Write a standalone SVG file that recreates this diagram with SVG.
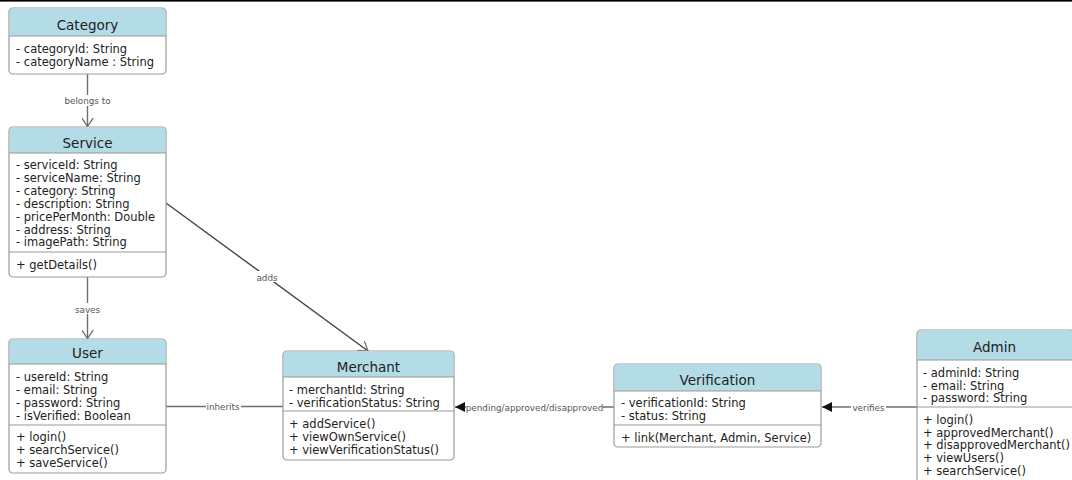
<svg xmlns="http://www.w3.org/2000/svg" width="1072" height="480" viewBox="0 0 1072 480">
<style>
.box{fill:#fff;stroke:#9a9a9a;stroke-width:1.2}
.hdr{fill:#b3dce6}
.sep{stroke:#9a9a9a;stroke-width:1.2}
.title{font-family:"DejaVu Sans",Verdana,sans-serif;font-size:13.5px;fill:#222;text-anchor:middle}
.t{font-family:"DejaVu Sans",Verdana,sans-serif;font-size:11.5px;fill:#222}
.edge{fill:none;stroke:#6e6e6e;stroke-width:1.4}
.lbl{font-family:"DejaVu Sans",Verdana,sans-serif;font-size:8.8px;fill:#555;text-anchor:middle}
.lbg{fill:#fff}
</style>
<defs>
<marker id="open" viewBox="0 0 10 12" refX="9" refY="6" markerWidth="10" markerHeight="12" markerUnits="userSpaceOnUse" orient="auto">
<path d="M0,0 L9,6 L0,12" fill="none" stroke="#6e6e6e" stroke-width="1.3"/>
</marker>
<marker id="fill" viewBox="0 0 11 10" refX="10" refY="5" markerWidth="11" markerHeight="10" markerUnits="userSpaceOnUse" orient="auto">
<path d="M0,0 L10,5 L0,10 Z" fill="#111"/>
</marker>
</defs>
<rect x="0" y="0" width="1072" height="1.6" fill="#000"/>

<g id="connectors">
<line class="edge" x1="87.5" y1="74" x2="87.5" y2="126.5" marker-end="url(#open)"/>
<rect class="lbg" x="63" y="95" width="49" height="11"/>
<text class="lbl" x="87.5" y="103.5">belongs to</text>

<line class="edge" x1="166" y1="203" x2="368" y2="351" marker-end="url(#open)" style="stroke:#444"/>
<rect class="lbg" x="255" y="271" width="24" height="11"/>
<text class="lbl" x="267" y="280.5">adds</text>

<line class="edge" x1="87.5" y1="277" x2="87.5" y2="338.5" marker-end="url(#open)"/>
<rect class="lbg" x="72" y="303" width="31" height="11"/>
<text class="lbl" x="87.5" y="312.5">saves</text>

<line class="edge" x1="166" y1="406.5" x2="283" y2="406.5"/>
<rect class="lbg" x="206" y="401" width="35" height="11"/>
<text class="lbl" x="223" y="410">inherits</text>

<line class="edge" x1="614" y1="407" x2="455" y2="407" marker-end="url(#fill)"/>
<rect class="lbg" x="466" y="401" width="137" height="11"/>
<text class="lbl" x="534.5" y="410.5">pending/approved/disapproved</text>

<line class="edge" x1="917" y1="407" x2="822" y2="407" marker-end="url(#fill)"/>
<rect class="lbg" x="851" y="401" width="35" height="11"/>
<text class="lbl" x="868.5" y="410.5">verifies</text>
</g>

<g id="category">
<rect class="box" x="9" y="8" width="157" height="66" rx="4"/>
<path class="hdr" d="M13,8.6 H162 A3.4,3.4 0 0 1 165.4,12 V36 H9.6 V12 A3.4,3.4 0 0 1 13,8.6 Z"/>
<line class="sep" x1="9" y1="36" x2="166" y2="36"/>
<text class="title" x="87.5" y="30">Category</text>
<text class="t" x="16" y="53">- categoryId: String</text>
<text class="t" x="16" y="66">- categoryName : String</text>
</g>

<g id="service">
<rect class="box" x="9" y="127" width="157" height="150" rx="4"/>
<path class="hdr" d="M13,127.6 H162 A3.4,3.4 0 0 1 165.4,131 V153 H9.6 V131 A3.4,3.4 0 0 1 13,127.6 Z"/>
<line class="sep" x1="9" y1="153" x2="166" y2="153"/>
<text class="title" x="87.5" y="148">Service</text>
<text class="t" x="16" y="169">- serviceId: String</text>
<text class="t" x="16" y="182">- serviceName: String</text>
<text class="t" x="16" y="195">- category: String</text>
<text class="t" x="16" y="208">- description: String</text>
<text class="t" x="16" y="220.5">- pricePerMonth: Double</text>
<text class="t" x="16" y="233.5">- address: String</text>
<text class="t" x="16" y="246">- imagePath: String</text>
<line class="sep" x1="9" y1="252" x2="166" y2="252"/>
<text class="t" x="16" y="269">+ getDetails()</text>
</g>

<g id="user">
<rect class="box" x="9" y="339" width="157" height="134" rx="4"/>
<path class="hdr" d="M13,339.6 H162 A3.4,3.4 0 0 1 165.4,343 V364 H9.6 V343 A3.4,3.4 0 0 1 13,339.6 Z"/>
<line class="sep" x1="9" y1="364" x2="166" y2="364"/>
<text class="title" x="87.5" y="358">User</text>
<text class="t" x="16" y="381">- usereId: String</text>
<text class="t" x="16" y="394">- email: String</text>
<text class="t" x="16" y="407">- password: String</text>
<text class="t" x="16" y="420">- isVerified: Boolean</text>
<line class="sep" x1="9" y1="425" x2="166" y2="425"/>
<text class="t" x="16" y="441">+ login()</text>
<text class="t" x="16" y="454">+ searchService()</text>
<text class="t" x="16" y="467">+ saveService()</text>
</g>

<g id="merchant">
<rect class="box" x="283" y="351" width="171" height="109" rx="4"/>
<path class="hdr" d="M287,351.6 H450 A3.4,3.4 0 0 1 453.4,355 V377 H283.6 V355 A3.4,3.4 0 0 1 287,351.6 Z"/>
<line class="sep" x1="283" y1="377" x2="454" y2="377"/>
<text class="title" x="368.5" y="372">Merchant</text>
<text class="t" x="289" y="394">- merchantId: String</text>
<text class="t" x="289" y="407">- verificationStatus: String</text>
<line class="sep" x1="283" y1="411" x2="454" y2="411"/>
<text class="t" x="289" y="427.5">+ addService()</text>
<text class="t" x="289" y="441">+ viewOwnService()</text>
<text class="t" x="289" y="454">+ viewVerificationStatus()</text>
</g>

<g id="verification">
<rect class="box" x="614" y="364" width="207" height="83" rx="4"/>
<path class="hdr" d="M618,364.6 H817 A3.4,3.4 0 0 1 820.4,368 V391 H614.6 V368 A3.4,3.4 0 0 1 618,364.6 Z"/>
<line class="sep" x1="614" y1="391" x2="821" y2="391"/>
<text class="title" x="717.5" y="385">Verification</text>
<text class="t" x="621" y="407">- verificationId: String</text>
<text class="t" x="621" y="419.5">- status: String</text>
<line class="sep" x1="614" y1="425" x2="821" y2="425"/>
<text class="t" x="621" y="442">+ link(Merchant, Admin, Service)</text>
</g>

<g id="admin">
<rect class="box" x="917" y="330" width="157" height="152" rx="4"/>
<path class="hdr" d="M921,330.6 H1070 A3.4,3.4 0 0 1 1073.4,334 V360 H917.6 V334 A3.4,3.4 0 0 1 921,330.6 Z"/>
<line class="sep" x1="917" y1="360" x2="1074" y2="360"/>
<text class="title" x="994.5" y="352">Admin</text>
<text class="t" x="923" y="377">- adminId: String</text>
<text class="t" x="923" y="389.5">- email: String</text>
<text class="t" x="923" y="402">- password: String</text>
<line class="sep" x1="917" y1="407" x2="1074" y2="407"/>
<text class="t" x="923" y="424">+ login()</text>
<text class="t" x="923" y="436.5">+ approvedMerchant()</text>
<text class="t" x="923" y="449">+ disapprovedMerchant()</text>
<text class="t" x="923" y="462">+ viewUsers()</text>
<text class="t" x="923" y="474.5">+ searchService()</text>
</g>
</svg>
